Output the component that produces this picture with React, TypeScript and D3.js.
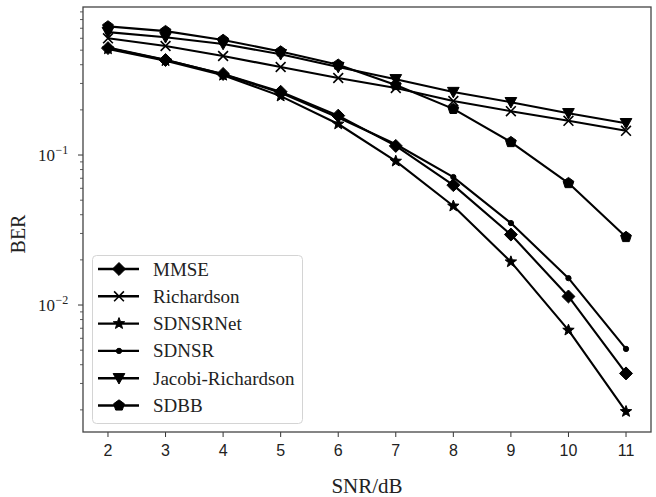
import * as d3 from "d3";
import React, { useEffect, useRef } from "react";

const snr = [2, 3, 4, 5, 6, 7, 8, 9, 10, 11];

const mmse = [0.516, 0.43, 0.347, 0.264, 0.183, 0.115, 0.063, 0.0295, 0.0114, 0.0035];
const richardson = [0.6, 0.533, 0.457, 0.386, 0.326, 0.28, 0.229, 0.196, 0.169, 0.145];
const sdnsrNet = [0.51, 0.425, 0.34, 0.247, 0.161, 0.091, 0.0457, 0.0194, 0.0068, 0.00195];
const sdnsr = [0.52, 0.432, 0.345, 0.26, 0.178, 0.118, 0.0713, 0.0352, 0.0151, 0.0051];
const jacobiRichardson = [0.66, 0.61, 0.55, 0.47, 0.386, 0.32, 0.263, 0.225, 0.19, 0.163];
const sdbb = [0.72, 0.67, 0.585, 0.49, 0.4, 0.293, 0.203, 0.122, 0.065, 0.0284];

const seriesNames = ["MMSE", "Richardson", "SDNSRNet", "SDNSR", "Jacobi-Richardson", "SDBB"];

const W = 656;
const H = 497;
const plot = { left: 83, right: 651, top: 7, bottom: 432 };

// marker shapes, size is treated as radius squared
const diamond = {
  draw(ctx, size) {
    const r = Math.sqrt(size);
    ctx.moveTo(0, -r);
    ctx.lineTo(r, 0);
    ctx.lineTo(0, r);
    ctx.lineTo(-r, 0);
    ctx.closePath();
  },
};
const pentagon = {
  draw(ctx, size) {
    const r = Math.sqrt(size);
    for (let k = 0; k < 5; k++) {
      const a = -Math.PI / 2 + (k * 2 * Math.PI) / 5;
      if (k === 0) ctx.moveTo(r * Math.cos(a), r * Math.sin(a));
      else ctx.lineTo(r * Math.cos(a), r * Math.sin(a));
    }
    ctx.closePath();
  },
};
const star = {
  draw(ctx, size) {
    const r = Math.sqrt(size);
    for (let k = 0; k < 10; k++) {
      const a = -Math.PI / 2 + (k * Math.PI) / 5;
      const rr = k % 2 === 0 ? r : r * 0.42;
      if (k === 0) ctx.moveTo(rr * Math.cos(a), rr * Math.sin(a));
      else ctx.lineTo(rr * Math.cos(a), rr * Math.sin(a));
    }
    ctx.closePath();
  },
};
const triDown = {
  draw(ctx, size) {
    const r = Math.sqrt(size);
    ctx.moveTo(-r, -r * 0.8);
    ctx.lineTo(r, -r * 0.8);
    ctx.lineTo(0, r);
    ctx.closePath();
  },
};
const cross = {
  draw(ctx, size) {
    const r = Math.sqrt(size);
    ctx.moveTo(-r, -r);
    ctx.lineTo(r, r);
    ctx.moveTo(-r, r);
    ctx.lineTo(r, -r);
  },
};
const dot = {
  draw(ctx, size) {
    const r = Math.sqrt(size);
    ctx.moveTo(r, 0);
    ctx.arc(0, 0, r, 0, 2 * Math.PI);
  },
};

const series = [
  { name: seriesNames[0], values: mmse, type: diamond, size: 42, fill: true },
  { name: seriesNames[1], values: richardson, type: cross, size: 24, fill: false },
  { name: seriesNames[2], values: sdnsrNet, type: star, size: 36, fill: true },
  { name: seriesNames[3], values: sdnsr, type: dot, size: 7, fill: true },
  { name: seriesNames[4], values: jacobiRichardson, type: triDown, size: 34, fill: true },
  { name: seriesNames[5], values: sdbb, type: pentagon, size: 32, fill: true },
];

const serif = "Liberation Serif, Times New Roman, serif";

function BerChart() {
  const svgRef = useRef(null);

  useEffect(() => {
    const svg = d3.select(svgRef.current);
    svg.selectAll("*").remove();

    // 2 sits at x=108, 11 at x=626
    const x = d3.scaleLinear()
      .domain([2 - (108 - plot.left) / 57.6, 11 + (plot.right - 626) / 57.6])
      .range([plot.left, plot.right]);
    // 10^-1 and 10^-2 fall 150px apart
    const y = d3.scaleLog().domain([0.001424, 0.97]).range([plot.bottom, plot.top]);

    const g = svg.append("g");

    // x ticks
    const xt = g.append("g");
    snr.forEach((v) => {
      xt.append("line")
        .attr("x1", x(v)).attr("x2", x(v))
        .attr("y1", plot.bottom).attr("y2", plot.bottom + 5)
        .attr("stroke", "#333").attr("stroke-width", 1);
      xt.append("text")
        .attr("x", x(v)).attr("y", plot.bottom + 24)
        .attr("text-anchor", "middle")
        .attr("font-family", "Liberation Sans, Arial, sans-serif")
        .attr("font-size", 16)
        .attr("fill", "#222")
        .text(v);
    });

    // y ticks, major and minor
    const yt = g.append("g");
    const majors = [0.01, 0.1];
    const minors = [];
    [0.001, 0.01, 0.1].forEach((d) => {
      for (let k = 2; k <= 9; k++) {
        const v = d * k;
        if (v >= y.domain()[0] && v <= y.domain()[1]) minors.push(v);
      }
    });
    minors.forEach((v) => {
      yt.append("line")
        .attr("x1", plot.left - 3).attr("x2", plot.left)
        .attr("y1", y(v)).attr("y2", y(v))
        .attr("stroke", "#333").attr("stroke-width", 0.8);
    });
    majors.forEach((v) => {
      yt.append("line")
        .attr("x1", plot.left - 5).attr("x2", plot.left)
        .attr("y1", y(v)).attr("y2", y(v))
        .attr("stroke", "#333").attr("stroke-width", 1);
      yt.append("text")
        .attr("x", 55).attr("y", y(v) + 6)
        .attr("text-anchor", "end")
        .attr("font-family", serif)
        .attr("font-size", 17)
        .attr("fill", "#222")
        .text("10");
      yt.append("text")
        .attr("x", 55.5).attr("y", y(v) - 1)
        .attr("font-family", serif)
        .attr("font-size", 12)
        .attr("fill", "#222")
        .text("\u2212" + Math.round(-Math.log10(v)));
    });

    // lines and markers
    const lineGen = d3.line()
      .x((d, i) => x(snr[i]))
      .y((d) => y(d));

    series.forEach((s) => {
      g.append("path")
        .datum(s.values)
        .attr("d", lineGen)
        .attr("fill", "none")
        .attr("stroke", "#000")
        .attr("stroke-width", 2.1)
        .attr("stroke-linejoin", "round");
    });
    series.forEach((s) => {
      const sym = d3.symbol().type(s.type).size(s.size);
      g.append("g")
        .selectAll("path")
        .data(s.values)
        .join("path")
        .attr("transform", (d, i) => `translate(${x(snr[i])},${y(d)})`)
        .attr("d", sym)
        .attr("fill", s.fill ? "#000" : "none")
        .attr("stroke", "#000")
        .attr("stroke-width", s.fill ? 1 : 1.6);
    });

    // frame
    g.append("rect")
      .attr("x", plot.left).attr("y", plot.top)
      .attr("width", plot.right - plot.left)
      .attr("height", plot.bottom - plot.top)
      .attr("fill", "none")
      .attr("stroke", "#444")
      .attr("stroke-width", 1.3);

    // legend
    const lg = g.append("g");
    lg.append("rect")
      .attr("x", 92.5).attr("y", 255.5)
      .attr("width", 210).attr("height", 168)
      .attr("rx", 4)
      .attr("fill", "#fff").attr("fill-opacity", 0.85)
      .attr("stroke", "#d4d4d4");
    series.forEach((s, i) => {
      const cy = 269 + i * 27.3;
      lg.append("line")
        .attr("x1", 98).attr("x2", 139)
        .attr("y1", cy).attr("y2", cy)
        .attr("stroke", "#000").attr("stroke-width", 2.4);
      lg.append("path")
        .attr("transform", `translate(119,${cy})`)
        .attr("d", d3.symbol().type(s.type).size(s.size)())
        .attr("fill", s.fill ? "#000" : "none")
        .attr("stroke", "#000")
        .attr("stroke-width", s.fill ? 1 : 1.6);
      lg.append("text")
        .attr("x", 153).attr("y", cy + 6.5)
        .attr("font-family", serif)
        .attr("font-size", 19)
        .attr("fill", "#222")
        .text(s.name);
    });

    // axis titles
    g.append("text")
      .attr("x", 367).attr("y", 493)
      .attr("text-anchor", "middle")
      .attr("font-family", serif)
      .attr("font-size", 21)
      .attr("fill", "#222")
      .text("SNR/dB");
    g.append("text")
      .attr("transform", "translate(25,234) rotate(-90)")
      .attr("text-anchor", "middle")
      .attr("font-family", serif)
      .attr("font-size", 20)
      .attr("fill", "#222")
      .text("BER");
  }, []);

  return (
    <svg
      ref={svgRef}
      width={W}
      height={H}
      style={{ position: "fixed", left: 0, top: 0, display: "block", background: "#fff" }}
    />
  );
}

export default function App() {
  return <BerChart />;
}
